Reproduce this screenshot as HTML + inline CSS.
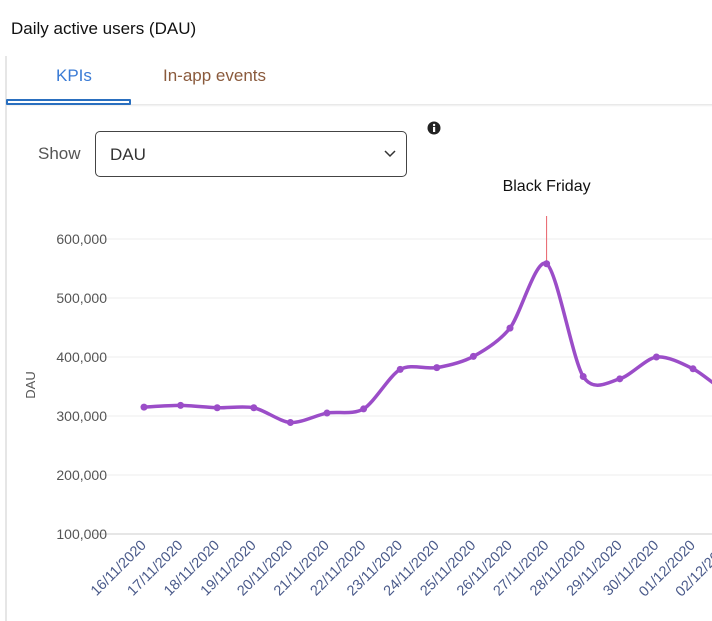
<!DOCTYPE html>
<html><head><meta charset="utf-8"><style>
body{margin:0;width:712px;height:621px;overflow:hidden;background:#fff;font-family:"Liberation Sans",sans-serif;position:relative}
.t{position:absolute}
</style></head><body>
<div class="t" style="left:11px;top:19px;font-size:17px;color:#111">Daily active users (DAU)</div>
<div class="t" style="left:5px;top:56px;width:2px;height:565px;background:#e6e6e6"></div>
<div class="t" style="left:7px;top:104px;width:705px;height:3px;background:linear-gradient(#e4e4e4,#fff)"></div>
<div class="t" style="left:56px;top:66px;font-size:17px;color:#3a7bd5">KPIs</div>
<div class="t" style="left:6px;top:99px;width:121px;height:2px;border:2px solid #2a6fbf;border-radius:1px"></div>
<div class="t" style="left:163px;top:66px;font-size:17px;color:#8a5a3c">In-app events</div>
<div class="t" style="left:38px;top:144px;font-size:17px;color:#555">Show</div>
<div class="t" style="left:95px;top:131px;width:310px;height:44px;border:1px solid #444;border-radius:5px">
<span style="position:absolute;left:14px;top:13px;font-size:17px;color:#333">DAU</span>
<svg style="position:absolute;left:288px;top:18px" width="12" height="8"><path d="M1 1 L6 6 L11 1" stroke="#333" fill="none" stroke-width="1.5"/></svg></div>
<svg class="t" style="left:427px;top:121px" width="14" height="14"><circle cx="7" cy="7" r="6.5" fill="#222"/><rect x="6" y="6" width="2.2" height="5" fill="#fff"/><circle cx="7.1" cy="4" r="1.2" fill="#fff"/></svg>
<svg id="c" class="t" style="left:0;top:0" width="712" height="621"></svg>
<script>
const categories=["16/11/2020","17/11/2020","18/11/2020","19/11/2020","20/11/2020","21/11/2020","22/11/2020","23/11/2020","24/11/2020","25/11/2020","26/11/2020","27/11/2020","28/11/2020","29/11/2020","30/11/2020","01/12/2020","02/12/2020","03/12/2020"];
const dauValues=[315000,318000,314000,314000,289000,305000,312000,379000,382000,401000,449000,558000,367000,363000,400000,380000,338000,330000];
const yTicks=[100000,200000,300000,400000,500000,600000];
const annotationIndex=11;
const annotationText="Black Friday";
const NS="http://www.w3.org/2000/svg",svg=document.getElementById('c');
const x=i=>144+i*36.6, y=v=>534-(v-100000)*295/500000;
function mk(t,a,p){const e=document.createElementNS(NS,t);for(const k in a)e.setAttribute(k,a[k]);(p||svg).appendChild(e);return e;}
yTicks.forEach(v=>{
 const g=mk('line',{x1:92,x2:712,y1:y(v),y2:y(v),stroke:v===100000?'#ccc':'#eee'});
 
 
 const t=mk('text',{x:107,y:y(v)+5,'text-anchor':'end','font-size':14,fill:'#555','font-family':'Liberation Sans, sans-serif'});
 t.textContent=v.toLocaleString('en-US');
 
 
});
const yt=mk('text',{x:0,y:0,transform:'translate(35,385) rotate(-90)','text-anchor':'middle','font-size':13,fill:'#555','font-family':'Liberation Sans, sans-serif'});
yt.textContent='DAU';


categories.forEach((c,i)=>{
 const t=mk('text',{x:0,y:0,transform:`translate(${x(i)+3},${546}) rotate(-45)`,'text-anchor':'end','font-size':14.5,fill:'#4a5a8a','font-family':'Liberation Sans, sans-serif'});
 t.textContent=c;
 
 
});
const ax=x(annotationIndex);
const al=mk('line',{x1:ax,x2:ax,y1:216,y2:y(dauValues[annotationIndex]),stroke:'#e8606a','stroke-width':1});


const at=mk('text',{x:ax,y:191,'text-anchor':'middle','font-size':16,fill:'#111','font-family':'Liberation Sans, sans-serif'});
at.textContent=annotationText;


const P=dauValues.map((v,i)=>[x(i),y(v)]);
let d=`M${P[0][0]},${P[0][1]}`;
for(let i=0;i<P.length-1;i++){const p0=P[i-1]||P[i],p1=P[i],p2=P[i+1],p3=P[i+2]||p2;const k=7;
d+=` C${p1[0]+(p2[0]-p0[0])/k},${p1[1]+(p2[1]-p0[1])/k} ${p2[0]-(p3[0]-p1[0])/k},${p2[1]-(p3[1]-p1[1])/k} ${p2[0]},${p2[1]}`;}
const ln=mk('path',{d,fill:'none',stroke:'#9b4dc8','stroke-width':3.5,'stroke-linejoin':'round'});


P.forEach(p=>{const c=mk('circle',{cx:p[0],cy:p[1],r:3.5,fill:'#9b4dc8'});

});
</script>
</body></html>
